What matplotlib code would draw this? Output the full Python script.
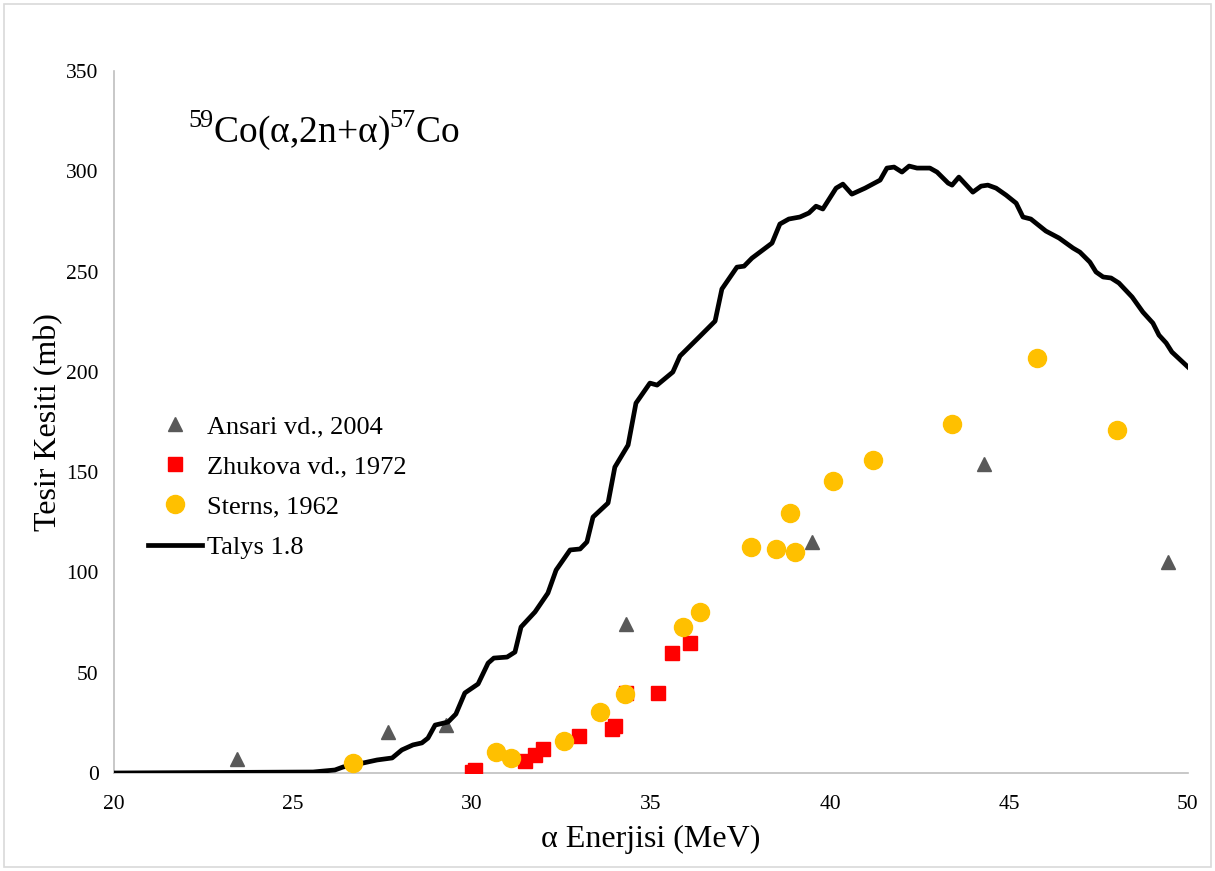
import matplotlib
matplotlib.use("Agg")
import matplotlib.pyplot as plt
from matplotlib.patches import Rectangle

plt.rcParams['font.family'] = ['Liberation Serif', 'DejaVu Serif']
plt.rcParams['mathtext.fontset'] = 'custom'
plt.rcParams['mathtext.rm'] = 'Liberation Serif'

# ---- data ----
ansari_E = [23.44, 27.65, 29.27, 34.3, 39.5, 44.3, 49.44]
ansari_xs = [7, 20.5, 24, 74.5, 115, 154, 105]

zhukova_E = [30.0, 30.08, 31.48, 31.76, 31.98, 32.99, 33.91, 34.0, 34.3, 35.2, 35.59, 36.09]
zhukova_xs = [0.5, 1.5, 6, 9, 12, 18.5, 22, 23.4, 40, 40, 60, 65]

sterns_E = [26.68, 30.67, 31.09, 32.57, 33.58, 34.27, 35.89, 36.37, 37.79, 38.49,
            38.88, 39.02, 40.08, 41.2, 43.41, 45.78, 48.02]
sterns_xs = [5, 10.5, 7.5, 16, 30.4, 39.4, 72.8, 80.3, 112.7, 111.7,
             129.6, 110.2, 145.6, 156, 174, 207, 171]

talys_E = [20.0, 25.56, 26.17, 26.40, 26.96, 27.35, 27.77, 28.04, 28.35, 28.60,
           28.77, 28.97, 29.33, 29.55, 29.80, 30.17, 30.45, 30.61, 30.98, 31.20,
           31.37, 31.76, 32.12, 32.35, 32.74, 33.02, 33.21, 33.38, 33.80, 33.99,
           34.36, 34.58, 34.97, 35.17, 35.61, 35.81, 36.37, 36.79, 36.98, 37.40,
           37.60, 37.82, 38.38, 38.60, 38.85, 39.16, 39.41, 39.61, 39.80, 40.17,
           40.36, 40.61, 40.98, 41.40, 41.59, 41.79, 42.01, 42.21, 42.43, 42.79,
           42.99, 43.30, 43.41, 43.60, 43.99, 44.22, 44.41, 44.64, 44.92, 45.20,
           45.39, 45.61, 46.03, 46.40, 46.79, 46.98, 47.26, 47.43, 47.63, 47.85,
           48.07, 48.44, 48.74, 49.02, 49.19, 49.39, 49.55, 50.0]
talys_xs = [0.0, 0.5, 1.5, 3.0, 5.0, 6.5, 7.5, 11.5, 14.0, 15.0,
            17.4, 23.9, 25.4, 29.4, 39.9, 44.4, 54.8, 57.3, 57.8, 60.3,
            72.8, 80.3, 89.7, 101.2, 111.2, 111.7, 115.2, 127.6, 134.6, 152.5,
            163.5, 184.4, 194.4, 193.4, 199.9, 207.9, 217.8, 225.3, 241.3, 252.2,
            252.7, 256.7, 264.2, 273.7, 276.2, 277.2, 279.2, 282.6, 281.2, 291.6,
            293.6, 288.6, 291.6, 295.6, 301.6, 302.1, 299.6, 302.6, 301.6, 301.6,
            299.6, 294.1, 293.1, 297.1, 289.6, 292.6, 293.1, 291.6, 288.1, 284.1,
            277.2, 276.2, 270.2, 266.7, 261.7, 259.7, 254.7, 249.8, 247.3, 246.8,
            244.3, 237.3, 229.8, 224.3, 218.3, 214.4, 209.9, 202.4]

labels = ["Ansari vd., 2004", "Zhukova vd., 1972", "Sterns, 1962", "Talys 1.8"]
title_txt = r"$^{59}$Co(α,2n+α)$^{57}$Co"
xlabel = "α Enerjisi (MeV)"
ylabel = "Tesir Kesiti (mb)"

# ---- figure ----
W, H = 1215, 871
fig = plt.figure(figsize=(W / 100, H / 100), dpi=100)
ax = fig.add_axes([114 / W, 98 / H, (1188 - 114) / W, (773 - 71) / H])

tri, = ax.plot(ansari_E, ansari_xs, linestyle='none', marker='^', markersize=10.5,
               color='#595959', zorder=2)
ln, = ax.plot(talys_E, talys_xs, color='black', linewidth=3.4, zorder=3)
sq, = ax.plot(zhukova_E, zhukova_xs, linestyle='none', marker='s', markersize=10,
              color='#FF0000', zorder=4)
ci, = ax.plot(sterns_E, sterns_xs, linestyle='none', marker='o', markersize=13,
              color='#FFC000', zorder=5)

ax.set_xlim(20, 50)
ax.set_ylim(0, 350)
ax.set_xticks(range(20, 51, 5))
ax.set_yticks(range(0, 351, 50))
ax.tick_params(axis='x', length=0, labelsize=15.5, pad=16)
ax.tick_params(axis='y', length=0, labelsize=15.5, pad=11)
for s in ['top', 'right']:
    ax.spines[s].set_visible(False)
for s in ['left', 'bottom']:
    ax.spines[s].set_color('#BFBFBF')
    ax.spines[s].set_linewidth(1.2)
ax.spines['bottom'].set_zorder(1)

ax.set_xlabel(xlabel, fontsize=23, labelpad=8)
ax.set_ylabel(ylabel, fontsize=23, labelpad=2)

fig.text(188 / W, 1 - 130 / H, title_txt, fontsize=27, ha='left', va='center')

leg = ax.legend([tri, sq, ci, ln], labels, loc='upper left',
                bbox_to_anchor=((148 - 114) / 1074, (773 - 415) / 702),
                frameon=False, fontsize=19, handlelength=2.05,
                handletextpad=0.2, labelspacing=0.63, borderaxespad=0,
                borderpad=0)

fig.patches.append(Rectangle((4 / W, 4 / H), (W - 8) / W, (H - 8) / H,
                             transform=fig.transFigure, fill=False,
                             edgecolor='#D9D9D9', linewidth=1.2))

fig.savefig("out.png", dpi=100)
